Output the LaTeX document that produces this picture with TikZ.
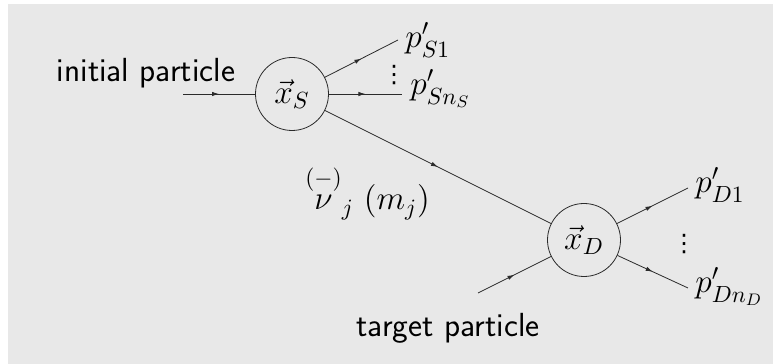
\RequirePackage{fix-cm}
\documentclass[tikz,border=0pt]{standalone}
\usepackage{amsmath}
\usepackage{fontspec}
\newfontfamily\dotsfont{DejaVu Sans}
\usetikzlibrary{arrows.meta, positioning, decorations.markings}
\definecolor{fdInk}{HTML}{2B2B2B}
\definecolor{fdBack}{HTML}{E8E8E8}
\tikzset{
  vertex/.style={
    draw=fdInk, line width=0.4pt, circle, minimum size=36.5pt,
    inner sep=0pt, font=\fontsize{16.7}{20}\selectfont
  },
  leg/.style={
    draw=fdInk, line width=0.4pt, postaction={decorate},
    decoration={markings,
      mark=at position 0.5 with {\arrow{Latex[length=3.5pt, width=2.2pt]}}}
  },
  lbl/.style={font=\fontsize{16.7}{20}\selectfont, inner sep=0pt},
  txt/.style={lbl, font=\fontsize{16.7}{20}\selectfont\sffamily},
  vdot/.style={inner sep=0pt, font=\dotsfont\fontsize{12}{12}\selectfont},
}

\begin{document}
\begin{tikzpicture}[x=0.5pt, y=0.5pt]
  \useasboundingbox (0,0) rectangle (773,364);
  \fill[fdBack] (8,0) rectangle (773,360);

  % the two vertices
  \node[vertex] (xS) at (292,270) {$\vec{x}_S$};
  \node[vertex] (xD) at (584,124) {$\vec{x}_D$};

  % free ends of the legs
  \coordinate (inS) at (183,270);
  \coordinate (outS1) at (398,324);
  \coordinate (outSn) at (402,270);
  \coordinate (inD) at (478,71);
  \coordinate (outD1) at (688,176);
  \coordinate (outDn) at (688,76);

  \node[txt, anchor=base] (initial) at (146,282) {initial particle};
  \node[txt, anchor=base] (target) at (448,27) {target particle};
  \node[lbl, anchor=base west] (pS1) at (405,316) {$p'_{S1}$};
  \node[lbl, anchor=base west] (pSn) at (410,269) {$p'_{Sn_S}$};
  \node[vdot] (dotsS) at (394,289) {⋮};
  \node[lbl, anchor=base west] (pD1) at (695,171) {$p'_{D1}$};
  \node[lbl, anchor=base west] (pDn) at (695,71) {$p'_{Dn_D}$};
  \node[vdot] (dotsD) at (684,120) {⋮};
  \node[lbl, anchor=base west] (nu) at (305,154) {$\overset{(-)}{\nu}_j\ (m_j)$};

  \draw[leg] (inS) -- (xS);
  \draw[leg] (xS) -- (outS1);
  \draw[leg] (xS) -- (outSn);
  \draw[leg] (xS) -- (xD);
  \draw[leg] (inD) -- (xD);
  \draw[leg] (xD) -- (outD1);
  \draw[leg] (xD) -- (outDn);
\end{tikzpicture}
\end{document}
